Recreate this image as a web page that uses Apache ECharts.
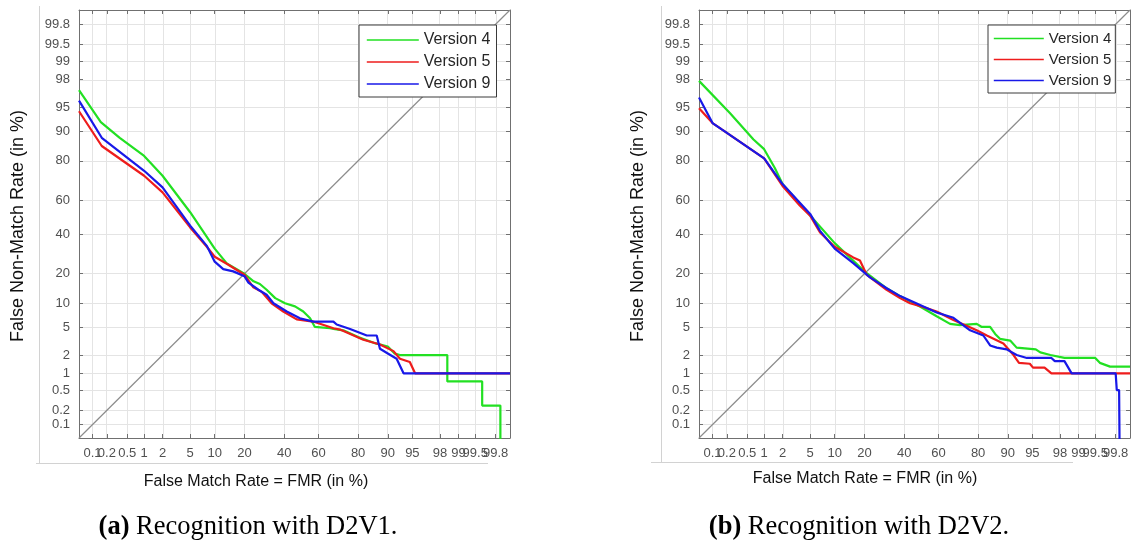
<!DOCTYPE html>
<html>
<head>
<meta charset="utf-8">
<script src="https://cdn.jsdelivr.net/npm/echarts@6/dist/echarts.min.js"></script>
<style>
html,body{margin:0;padding:0;background:#fff;}
#chart{width:1138px;height:542px;}
</style>
</head>
<body>
<div id="chart"></div>
<script>
// Normal-deviate (probit) tick marks, in percent
const tickPercents = [0.1, 0.2, 0.5, 1, 2, 5, 10, 20, 40, 60, 80, 90, 95, 98, 99, 99.5, 99.8];
const axisRangePercent = [0.05, 99.9];
const seriesNames = ['Version 4', 'Version 5', 'Version 9'];
const seriesColors = ['#22e022', '#ee1c1c', '#1818e8'];

// D2V1 curves: [FMR %, FNMR %]
const d2v1Version4 = [[0.05,97.1],[0.15,92.2],[0.36,88.2],[1,82],[2,73.2],[5,53],[10,32],[13.5,24.6],[20,20],[24,17],[27,16],[30.4,14],[35,11.4],[40.5,10],[46.3,9.2],[51.2,8],[55.2,6.6],[58,5.1],[66.5,4.9],[68.3,4.8],[73.3,4.6],[80,3.7],[86.5,3.0],[90,2.7],[91.7,2.1],[92.8,2.0],[98.47,2.0],[98.47,0.72],[99.63,0.72],[99.63,0.25],[99.84,0.25],[99.84,0.01]];
const d2v1Version5 = [[0.05,94.3],[0.157,85.6],[1,73.2],[2,64.5],[5,44],[8.1,33],[10,27.8],[13.5,24.4],[20,19.6],[23.9,14.8],[27.9,13.3],[33,10],[39.5,8],[47.3,6.4],[57,6.0],[68.3,4.9],[71.7,4.7],[82.1,3.4],[87.8,2.9],[91.4,2.3],[92.8,1.75],[94.6,1.55],[95.4,1.0],[99.9,1.0]];
const d2v1Version9 = [[0.05,95.9],[0.157,88.2],[1,75.6],[2,67.2],[5,45],[8.1,33.5],[10,25.4],[12.4,22],[15.7,21],[20,19],[21.7,16.5],[26.3,14],[30.4,12.4],[34,10],[41.5,8],[49.2,6.6],[57,6],[68.3,6],[70,5.5],[76.5,4.8],[83.4,3.9],[86.8,3.9],[87.8,2.5],[90.1,2.1],[92.1,1.75],[93.5,1.0],[99.9,1.0]];

// D2V2 curves: [FMR %, FNMR %]
const d2v2Version4 = [[0.05,97.9],[0.23,94],[0.65,87.7],[1,84.5],[1.5,77],[2,69],[5,51],[10,35],[20,21],[30.4,14.5],[37.7,12],[43.4,10.5],[50,9],[59,7],[66.5,5.6],[71.7,5.4],[79.4,5.6],[81.5,5.1],[84.6,5.1],[86.3,4.1],[87.8,3.5],[90.6,3.3],[92.1,2.6],[95.5,2.45],[96.1,2.2],[97.2,2.0],[98.3,1.8],[99.5,1.8],[99.59,1.5],[99.74,1.3],[99.9,1.3]];
const d2v2Version5 = [[0.05,94.8],[0.1,92],[0.157,90.5],[1,81],[2,68],[3.6,57],[5,51],[6.7,41],[10,33],[15.7,27.5],[18.2,26],[21,19.5],[30.4,14],[37.7,11.4],[43.4,10],[50,9.2],[59,8],[68.3,6.3],[79.4,4.6],[83.4,3.9],[88.8,3.0],[91.4,2.0],[92.6,1.5],[94.6,1.45],[95.1,1.25],[96.6,1.25],[97.3,1.0],[99.9,1.0]];
const d2v2Version9 = [[0.05,96.3],[0.1,92],[0.157,90.5],[1,81],[2,69],[5,52],[6.7,42],[10,32],[15.7,24.7],[22.4,18.5],[30.4,14.5],[37.7,12],[47,10],[59,7.8],[68.3,6.7],[76.5,4.6],[82.1,3.9],[84.6,2.8],[86.8,2.6],[89.7,2.45],[92.1,2.0],[94.1,1.8],[97.3,1.8],[97.6,1.6],[98.3,1.6],[98.7,1.0],[99.8,1.0],[99.81,0.5],[99.83,0.5],[99.835,0.01]];

// Inverse standard normal CDF (Acklam's rational approximation), input in percent
function probit(pct) {
  const p = pct / 100;
  const a = [-3.969683028665376e+01, 2.209460984245205e+02, -2.759285104469687e+02, 1.383577518672690e+02, -3.066479806614716e+01, 2.506628277459239e+00];
  const b = [-5.447609879822406e+01, 1.615858368580409e+02, -1.556989798598866e+02, 6.680131188771972e+01, -1.328068155288572e+01];
  const c = [-7.784894002430293e-03, -3.223964580411365e-01, -2.400758277161838e+00, -2.549732539343734e+00, 4.374664141464968e+00, 2.938163982698783e+00];
  const d = [7.784695709041462e-03, 3.224671290700398e-01, 2.445134137142996e+00, 3.754408661907416e+00];
  const pl = 0.02425, ph = 1 - pl;
  let q, r;
  if (p < pl) {
    q = Math.sqrt(-2 * Math.log(p));
    return (((((c[0]*q+c[1])*q+c[2])*q+c[3])*q+c[4])*q+c[5]) / ((((d[0]*q+d[1])*q+d[2])*q+d[3])*q+1);
  }
  if (p <= ph) {
    q = p - 0.5; r = q * q;
    return (((((a[0]*r+a[1])*r+a[2])*r+a[3])*r+a[4])*r+a[5])*q / (((((b[0]*r+b[1])*r+b[2])*r+b[3])*r+b[4])*r+1);
  }
  q = Math.sqrt(-2 * Math.log(1 - p));
  return -(((((c[0]*q+c[1])*q+c[2])*q+c[3])*q+c[4])*q+c[5]) / ((((d[0]*q+d[1])*q+d[2])*q+d[3])*q+1);
}

const tickZ = tickPercents.map(probit);
// Crowded low/high x labels are split over two label rows sharing the same baseline,
// so that every tick keeps its label (they are allowed to touch).
const labelZEven = tickZ.filter((_, i) => i % 2 === 0);
const labelZOdd = tickZ.filter((_, i) => i % 2 === 1);
const zMin = probit(axisRangePercent[0]);
const zMax = probit(axisRangePercent[1]);
const sansFont = '"Liberation Sans", Arial, sans-serif';
const serifFont = '"Liberation Serif", "Times New Roman", serif';
const axisGray = '#707070';

function tickLabel(v) {
  const i = tickZ.findIndex(z => Math.abs(z - v) < 1e-6);
  return i >= 0 ? String(tickPercents[i]) : '';
}

const labelStyle = { formatter: tickLabel, color: '#505050', fontSize: 13, fontFamily: sansFont,
  margin: 9, hideOverlap: false, showMinLabel: true, showMaxLabel: true };

// Axis with line and inward ticks; labels optional
function frameAxis(gridIndex, position, labelValues) {
  return {
    type: 'value', gridIndex, position, min: zMin, max: zMax,
    axisLine: { show: true, onZero: false, lineStyle: { color: axisGray, width: 1 } },
    axisTick: { show: true, inside: true, length: 4, customValues: tickZ, lineStyle: { color: axisGray, width: 1 } },
    axisLabel: labelValues ? Object.assign({ show: true, customValues: labelValues }, labelStyle) : { show: false },
    splitLine: { show: false }
  };
}

// Label-only companion axis
function labelAxis(gridIndex, position, labelValues) {
  return {
    type: 'value', gridIndex, position, min: zMin, max: zMax,
    axisLine: { show: false, onZero: false }, axisTick: { show: false },
    axisLabel: Object.assign({ show: true, customValues: labelValues }, labelStyle),
    splitLine: { show: false }
  };
}

const panels = [
  [d2v1Version4, d2v1Version5, d2v1Version9],
  [d2v2Version4, d2v2Version5, d2v2Version9]
];

const xAxes = [], yAxes = [];
panels.forEach((_, g) => {
  xAxes.push(frameAxis(g, 'bottom', labelZEven), frameAxis(g, 'top', null), labelAxis(g, 'bottom', labelZOdd));
  yAxes.push(frameAxis(g, 'left', tickZ), frameAxis(g, 'right', null));
});

const series = [];
panels.forEach((curves, g) => {
  const xi = g * 3, yi = g * 2;
  // light grid at every probit tick, both directions, kept beneath everything else
  series.push({
    type: 'line', name: 'grid', xAxisIndex: xi, yAxisIndex: yi, data: [],
    symbol: 'none', silent: true, z: 0,
    markLine: {
      z: 0, silent: true, symbol: ['none', 'none'], animation: false,
      label: { show: false },
      lineStyle: { color: '#e4e4e4', width: 1, type: 'solid' },
      emphasis: { disabled: true },
      data: tickZ.map(z => ({ xAxis: z })).concat(tickZ.map(z => ({ yAxis: z })))
    }
  });
  // equal-error diagonal
  series.push({
    type: 'line', name: 'diagonal', xAxisIndex: xi, yAxisIndex: yi,
    data: axisRangePercent.map(p => [probit(p), probit(p)]),
    symbol: 'none', silent: true, lineStyle: { color: '#8c8c8c', width: 1.2 }, z: 1
  });
  curves.forEach((pts, k) => {
    series.push({
      type: 'line', name: seriesNames[k], xAxisIndex: xi, yAxisIndex: yi,
      data: pts.map(([f, n]) => [probit(f), probit(n)]),
      symbol: 'none', showSymbol: false, clip: true, silent: true,
      color: seriesColors[k],
      lineStyle: { color: seriesColors[k], width: 2.2 }, z: 2 + k
    });
  });
});

function legendAt(left, top, itemWidth, fontSize, padding, itemGap) {
  return {
    data: seriesNames, orient: 'vertical', left, top, padding, itemGap, itemWidth, itemHeight: 14,
    borderColor: '#3a3a3a', borderWidth: 1, borderRadius: 0, backgroundColor: '#ffffff',
    selectedMode: false, z: 10,
    itemStyle: { opacity: 0 },
    lineStyle: { width: 1.6 },
    textStyle: { fontSize, color: '#262626', fontFamily: sansFont }
  };
}

function frameLines(xv, yTop, yBottom, xStart, xEnd) {
  const st = { stroke: '#d2d2d2', lineWidth: 1 };
  return [
    { type: 'line', silent: true, shape: { x1: xv, y1: yTop, x2: xv, y2: yBottom }, style: st },
    { type: 'line', silent: true, shape: { x1: xStart, y1: yBottom, x2: xEnd, y2: yBottom }, style: st }
  ];
}

function plainText(x, y, text, font, rotation) {
  return { type: 'text', x, y, rotation: rotation || 0, silent: true,
    style: { text, font, fill: '#111', align: 'center', verticalAlign: 'middle', textAlign: 'center', textVerticalAlign: 'middle' } };
}

function caption(x, y, tag, rest) {
  return { type: 'text', x, y, silent: true,
    style: {
      text: '{b|' + tag + '} ' + rest,
      fontFamily: serifFont, fontSize: 26.5, fill: '#000',
      align: 'center', verticalAlign: 'middle', textAlign: 'center', textVerticalAlign: 'middle',
      rich: { b: { fontFamily: serifFont, fontSize: 26.5, fontWeight: 'bold', fill: '#000' } }
    } };
}

const option = {
  animation: false,
  backgroundColor: '#ffffff',
  grid: [
    { left: 79, top: 10, width: 431, height: 428 },
    { left: 699, top: 10, width: 431, height: 428 }
  ],
  xAxis: xAxes,
  yAxis: yAxes,
  legend: [
    legendAt(359, 25, 52, 16, [7, 6, 5, 7], 6),
    legendAt(988, 25, 50, 15, [6, 4, 5, 5], 6)
  ],
  series,
  graphic: [
    ...frameLines(39.5, 6, 463.5, 36, 488),
    ...frameLines(661.5, 6, 462.5, 651, 1073),
    plainText(256, 482, 'False Match Rate = FMR (in %)', '16px ' + sansFont),
    plainText(865, 479, 'False Match Rate = FMR (in %)', '16px ' + sansFont),
    plainText(18, 226, 'False Non-Match Rate (in %)', '18px ' + sansFont, Math.PI / 2),
    plainText(638, 226, 'False Non-Match Rate (in %)', '18px ' + sansFont, Math.PI / 2),
    caption(248, 527, '(a)', 'Recognition with D2V1.'),
    caption(859, 527, '(b)', 'Recognition with D2V2.')
  ]
};

const chart = echarts.init(document.getElementById('chart'), null, { renderer: 'canvas' });
chart.setOption(option);
</script>
</body>
</html>
